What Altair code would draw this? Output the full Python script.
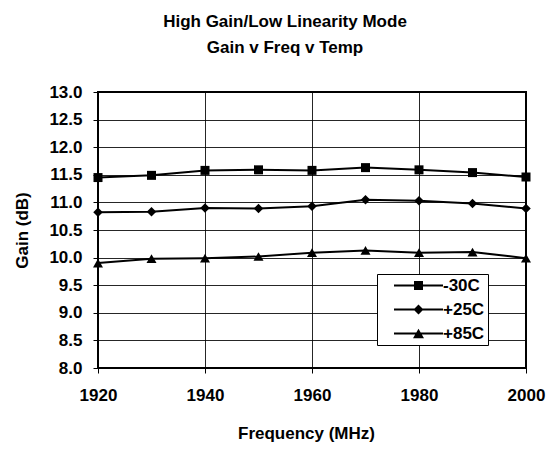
import altair as alt
import pandas as pd

freq = [1920, 1930, 1940, 1950, 1960, 1970, 1980, 1990, 2000]
m30 = [11.45, 11.49, 11.58, 11.59, 11.58, 11.63, 11.59, 11.54, 11.46]
p25 = [10.82, 10.83, 10.90, 10.89, 10.93, 11.05, 11.03, 10.98, 10.89]
p85 = [9.90, 9.98, 9.99, 10.02, 10.09, 10.13, 10.09, 10.10, 9.99]
series = ["-30C", "+25C", "+85C"]
x_ticks = [1920, 1940, 1960, 1980, 2000]
y_ticks = [8.0, 8.5, 9.0, 9.5, 10.0, 10.5, 11.0, 11.5, 12.0, 12.5, 13.0]

rows = []
for name, vals in zip(series, [m30, p25, p85]):
    for f, g in zip(freq, vals):
        rows.append({"freq": f, "gain": g, "temp": name})
df = pd.DataFrame(rows)

FONT = "Liberation Sans, Arial, sans-serif"

x = alt.X("freq:Q", scale=alt.Scale(domain=[1920, 2000], nice=False),
          axis=alt.Axis(values=x_ticks, format="d", title="Frequency (MHz)",
                        tickSize=5, labelPadding=14, labelFlush=False,
                        titleY=57, titleBaseline="top",
                        titleX=208, titleAlign="center"))
y = alt.Y("gain:Q", scale=alt.Scale(domain=[8, 13], nice=False, zero=False),
          axis=alt.Axis(values=y_ticks, format=".1f", title="Gain (dB)",
                        tickSize=5, labelPadding=11, labelFlush=False, titleX=-76,
                        titleBaseline="middle"))

base = alt.Chart(df)

lines = base.mark_line(color="black", strokeWidth=2).encode(
    x=x, y=y, detail="temp:N")

points = base.mark_point(filled=True, color="black", opacity=1).encode(
    x=x, y=y,
    shape=alt.Shape("temp:N", sort=series,
                    scale=alt.Scale(domain=series, range=["square", "diamond", "triangle-up"]),
                    legend=None),
    size=alt.Size("temp:N", sort=series,
                  scale=alt.Scale(domain=series, range=[81, 100, 121]), legend=None),
)

leg_paths = [
    "M-4.9,-0.2H4.9V0.2H-4.9Z M-0.9,-0.9H0.9V0.9H-0.9Z",
    "M-4.9,-0.2H4.9V0.2H-4.9Z M-1,0L0,-1L1,0L0,1Z",
    "M-4.9,-0.2H4.9V0.2H-4.9Z M0,-0.95L1.1,0.95L-1.1,0.95Z",
]

legend_layer = base.mark_point(filled=True, color="black", opacity=0, size=100).encode(
    x=x, y=y,
    shape=alt.Shape("temp:N", sort=series,
                    scale=alt.Scale(domain=series, range=leg_paths),
                    legend=alt.Legend(title=None, orient="none", legendX=279, legendY=182,
                                      fillColor="white", strokeColor="black",
                                      padding=3, rowPadding=6,
                                      symbolSize=100, symbolOpacity=1,
                                      symbolFillColor="black", symbolStrokeWidth=0,
                                      symbolOffset=30, labelOffset=16,
                                      labelFont=FONT, labelFontSize=17, labelFontWeight="bold",
                                      labelColor="black",
                                      labelExpr="datum.label + '\u00a0\u00a0\u00a0'")),
)

chart = alt.layer(lines, points, legend_layer).resolve_scale(
    shape="independent", size="independent"
).properties(
    width=428, height=276,
    autosize=alt.AutoSizeParams(type="none"),
    padding={"left": 90, "top": 84, "right": 20, "bottom": 75},
    title=alt.TitleParams(["High Gain/Low Linearity Mode", "Gain v Freq v Temp"],
                          font=FONT, fontSize=17, fontWeight="bold", color="black",
                          lineHeight=26, anchor="middle", dx=-27, offset=26),
).configure_view(
    stroke="black", strokeWidth=2
).configure_axis(
    grid=True, gridColor="black", gridWidth=1, gridOpacity=0.85,
    domain=False, tickColor="black", tickWidth=1,
    labelFont=FONT, labelFontSize=17, labelFontWeight="bold", labelColor="black",
    titleFont=FONT, titleFontSize=17, titleFontWeight="bold", titleColor="black",
)

chart.save("out.html", embed_options={"renderer": "svg", "actions": False})
